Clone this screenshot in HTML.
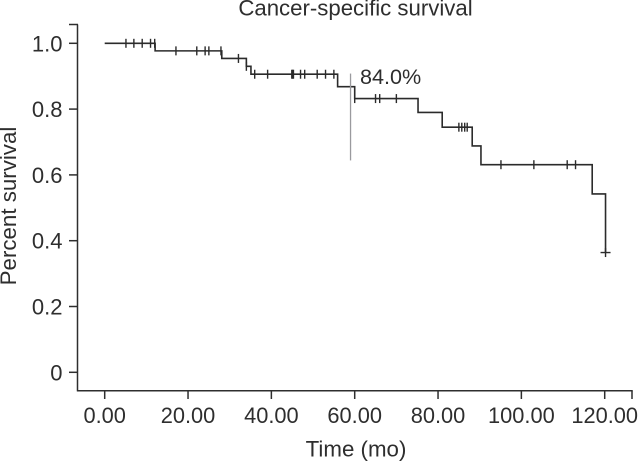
<!DOCTYPE html>
<html lang="en">
<head>
<meta charset="utf-8">
<title>Cancer-specific survival</title>
<style>
html,body{margin:0;padding:0;background:#fff;width:638px;height:462px;overflow:hidden}
svg{display:block}
text{font-family:"Liberation Sans",Arial,sans-serif;fill:#2e2e2e}
</style>
</head>
<body>
<svg id="chart" width="638" height="462" viewBox="0 0 638 462" xmlns="http://www.w3.org/2000/svg">
<text x="355.5" y="15.5" font-size="22.2" text-anchor="middle">Cancer-specific survival</text>
<text transform="translate(16,206) rotate(-90)" font-size="22.3" text-anchor="middle">Percent survival</text>
<text x="356" y="456.7" font-size="22.3" text-anchor="middle">Time (mo)</text>
<text x="360" y="84" font-size="21.6">84.0%</text>
</svg>
<script>
var xTicks = [0, 20, 40, 60, 80, 100, 120];
var xTickLabels = ["0.00", "20.00", "40.00", "60.00", "80.00", "100.00", "120.00"];
var yTicks = [0, 0.2, 0.4, 0.6, 0.8, 1.0];
var yTickLabels = ["0", "0.2", "0.4", "0.6", "0.8", "1.0"];
var stepTimes = [0, 12.1, 28.1, 34, 35.1, 55.9, 60, 75.2, 81, 88.2, 90.3, 117, 120.2];
var stepSurvival = [1.0, 0.977, 0.954, 0.93, 0.906, 0.868, 0.832, 0.79, 0.745, 0.688, 0.631, 0.542, 0.364];
var censorTimes = [5.1, 7, 9, 11, 12, 17.1, 22.1, 24.1, 25, 27.9, 32.1, 34, 36, 39.1, 44.9, 45.1, 45.3, 47, 48, 51, 53, 55, 60, 65, 66, 70, 85, 85.7, 86.4, 87, 95.1, 103, 111, 113, 120.2];
var markerTime = [59];
var markerSurvivalRange = [0.644, 0.908];

function xScale(t) { return 104.7 + t * 4.1667; }
function yScale(s) { return 372.3 - s * 329; }

var svg = document.getElementById('chart');
var NS = 'http://www.w3.org/2000/svg';

function line(x1, y1, x2, y2, color, width) {
  var l = document.createElementNS(NS, 'line');
  l.setAttribute('x1', x1);
  l.setAttribute('y1', y1);
  l.setAttribute('x2', x2);
  l.setAttribute('y2', y2);
  l.setAttribute('stroke', color);
  l.setAttribute('stroke-width', width);
  svg.appendChild(l);
  return l;
}

function survivalAt(t) {
  var s = stepSurvival[0];
  for (var i = 0; i < stepTimes.length; i++) {
    if (stepTimes[i] <= t) s = stepSurvival[i];
  }
  return s;
}

var AXIS = '#2e2e2e';
var yAxis = line(77.5, 24.5, 77.5, 391.4, AXIS, 1.5);


var yTopCap = line(69, 24.5, 78, 24.5, AXIS, 1.5);


var xAxis = line(77, 390.7, 632.7, 390.7, AXIS, 1.5);


var xEndTick = line(632, 390.7, 632, 399, AXIS, 1.5);



xTicks.forEach(function (v, i) {
  var t = line(xScale(v), 390.7, xScale(v), 399, AXIS, 1.5);
  
  
  var label = document.createElementNS(NS, 'text');
  
  
  label.setAttribute('x', xScale(v));
  label.setAttribute('y', 423);
  label.setAttribute('font-size', '21.8');
  label.setAttribute('text-anchor', 'middle');
  label.textContent = xTickLabels[i];
  svg.appendChild(label);
});

yTicks.forEach(function (v, i) {
  var t = line(69, yScale(v), 77.5, yScale(v), AXIS, 1.5);
  
  
  var label = document.createElementNS(NS, 'text');
  
  
  label.setAttribute('x', 62.5);
  label.setAttribute('y', yScale(v) + 8);
  label.setAttribute('font-size', '22');
  label.setAttribute('text-anchor', 'end');
  label.textContent = yTickLabels[i];
  svg.appendChild(label);
});

var d = '';
stepTimes.forEach(function (t, i) {
  if (i === 0) {
    d += 'M' + xScale(t) + ' ' + yScale(stepSurvival[i]);
  } else {
    d += 'L' + xScale(t) + ' ' + yScale(stepSurvival[i - 1]);
    d += 'L' + xScale(t) + ' ' + yScale(stepSurvival[i]);
  }
});
var curve = document.createElementNS(NS, 'path');


curve.setAttribute('d', d);
curve.setAttribute('fill', 'none');
curve.setAttribute('stroke', '#2b2b2b');
curve.setAttribute('stroke-width', '1.6');
svg.appendChild(curve);

censorTimes.forEach(function (t) {
  var y = yScale(survivalAt(t));
  var c = line(xScale(t), y - 4.5, xScale(t), y + 4.5, '#2b2b2b', 1.4);
  
  
});

var lastTime = stepTimes[stepTimes.length - 1];
var lastY = yScale(stepSurvival[stepSurvival.length - 1]);
var endDash = line(xScale(lastTime) - 5, lastY, xScale(lastTime) + 5, lastY, '#2b2b2b', 1.4);



var marker = line(xScale(markerTime[0]), yScale(markerSurvivalRange[1]), xScale(markerTime[0]), yScale(markerSurvivalRange[0]), '#9a9a9e', 1.3);


</script>
</body>
</html>
